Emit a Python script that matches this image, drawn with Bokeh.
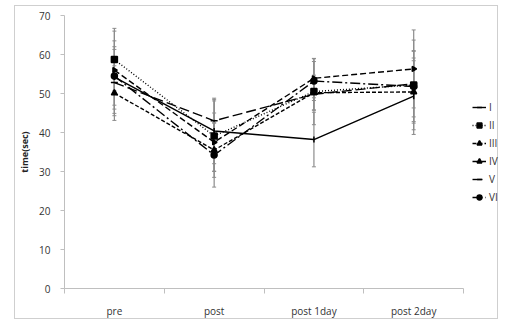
import math
from bokeh.plotting import figure
from bokeh.models import FixedTicker, Whisker, TeeHead, ColumnDataSource, Legend, LegendItem, Range1d
from bokeh.embed import file_html
from bokeh.resources import INLINE

categories = ["pre", "post", "post 1day", "post 2day"]
series_names = ["I", "II", "III", "IV", "V", "VI"]
I_vals = [54.2, 40.4, 38.2, 49.3]
II_vals = [58.7, 39.1, 50.5, 52.2]
III_vals = [50.1, 35.5, 50.2, 50.4]
IV_vals = [56.0, 37.5, 53.9, 56.3]
V_vals = [52.8, 43.0, 49.8, 52.5]
VI_vals = [54.5, 34.2, 53.2, 51.8]
I_err = [9.3, 8.4, 7.0, 9.8]
II_err = [8.0, 9.0, 8.5, 11.5]
III_err = [7.0, 7.0, 4.5, 8.0]
IV_err = [10.0, 7.5, 5.0, 10.0]
V_err = [8.5, 5.5, 4.0, 8.5]
VI_err = [7.5, 8.2, 5.0, 9.0]
y_ticks = [0, 10, 20, 30, 40, 50, 60, 70]

values = [I_vals, II_vals, III_vals, IV_vals, V_vals, VI_vals]
errors = [I_err, II_err, III_err, IV_err, V_err, VI_err]
dashes = ["solid", "1 2", "4 2", "6 3", "10 4", "10 3 2 3"]
markers = ["dash", "square", "triangle", "triangle", "dash", "circle"]
angles = [math.pi / 2, 0, 0, -math.pi / 2, 0, 0]
msizes = [6, 6, 6, 5, 7, 6]

ncat = len(categories)
p = figure(width=484, height=314, output_backend="svg", toolbar_location=None,
           x_range=Range1d(0, ncat + 0.36), y_range=Range1d(0, 70),
           min_border_left=48, min_border_top=9, min_border_bottom=27, min_border_right=0)
p.styles = {"border": "1px solid #cfcfcf", "margin-left": "14px", "margin-top": "5px"}
p.outline_line_color = None
p.xgrid.visible = False
p.ygrid.visible = False

xpos = [i + 0.5 for i in range(ncat)]

# error bars
for vals, errs in zip(values, errors):
    src = ColumnDataSource(dict(x=xpos,
                                upper=[v + e for v, e in zip(vals, errs)],
                                lower=[v - e for v, e in zip(vals, errs)]))
    w = Whisker(source=src, base="x", upper="upper", lower="lower", dimension="height",
                line_color="#8c8c8c", line_width=1.2,
                upper_head=TeeHead(size=4, line_color="#8c8c8c", line_width=1),
                lower_head=TeeHead(size=4, line_color="#8c8c8c", line_width=1))
    p.add_layout(w)

items = []
for name, vals, dash, mk, ang, ms in zip(series_names, values, dashes, markers, angles, msizes):
    src = ColumnDataSource(dict(x=xpos, y=vals))
    lr = p.line("x", "y", source=src, line_color="black", line_width=1.4, line_dash=dash)
    sr = p.scatter("x", "y", source=src, marker=mk, size=ms, angle=ang,
                   line_color="black", fill_color="black", line_width=1.5)
    items.append(LegendItem(label=name, renderers=[lr, sr]))

legend = Legend(items=items, location=(408, 84), glyph_width=14, glyph_height=12,
                label_standoff=3, padding=0, margin=0, spacing=4,
                label_text_font="Open Sans", label_text_font_size="10px",
                label_text_color="#333333", border_line_color=None,
                background_fill_alpha=0, label_height=12)
p.add_layout(legend)

p.xaxis.bounds = (0, ncat)
p.xaxis.ticker = FixedTicker(ticks=xpos, minor_ticks=list(range(ncat + 1)))
p.xaxis.major_label_overrides = {x: c for x, c in zip(xpos, categories)}
p.xaxis.major_tick_line_color = None
p.xaxis.major_tick_out = 0
p.xaxis.minor_tick_out = 5
p.xaxis.minor_tick_in = 0
p.xaxis.minor_tick_line_color = "#bfbfbf"
p.xaxis.axis_line_color = "#bfbfbf"
p.xaxis.major_label_text_font = "Open Sans"
p.xaxis.major_label_text_font_size = "10px"
p.xaxis.major_label_text_color = "#333333"
p.xaxis.major_label_standoff = 10

p.yaxis.ticker = FixedTicker(ticks=y_ticks)
p.yaxis.minor_tick_line_color = None
p.yaxis.major_tick_out = 4
p.yaxis.major_tick_in = 0
p.yaxis.major_tick_line_color = "#bfbfbf"
p.yaxis.axis_line_color = "#bfbfbf"
p.yaxis.major_label_text_font = "Open Sans"
p.yaxis.major_label_text_font_size = "10px"
p.yaxis.major_label_text_color = "#333333"
p.yaxis.major_label_standoff = 10
p.yaxis.axis_label = "time(sec)"
p.yaxis.axis_label_text_font = "Open Sans"
p.yaxis.axis_label_text_font_size = "9px"
p.yaxis.axis_label_text_font_style = "bold"
p.yaxis.axis_label_text_color = "#222222"
p.yaxis.axis_label_standoff = 5

open("out.html", "w").write(file_html(p, INLINE))
